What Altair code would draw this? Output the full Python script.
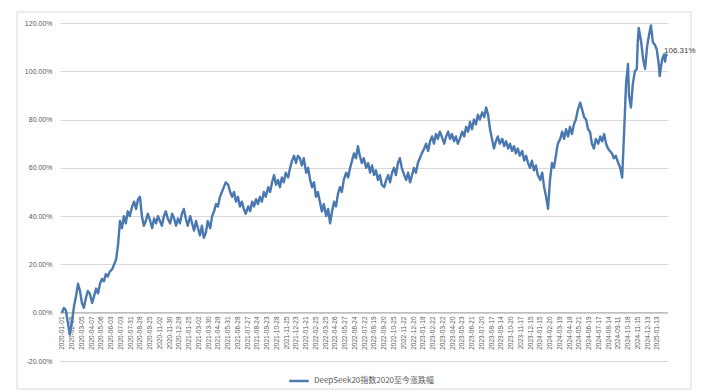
import altair as alt
import pandas as pd

# ---------------- data ----------------
series_name = "DeepSeek20指数2020至今涨跌幅"

tick_dates = [
    "2020-01-01", "2020-02-05", "2020-03-05", "2020-04-07", "2020-05-06", "2020-06-03",
    "2020-07-03", "2020-07-31", "2020-08-28", "2020-09-25", "2020-11-02", "2020-11-30",
    "2020-12-28", "2021-01-25", "2021-03-02", "2021-03-30", "2021-04-28", "2021-05-31",
    "2021-06-28", "2021-07-27", "2021-08-24", "2021-09-23", "2021-10-28", "2021-11-25",
    "2021-12-23", "2022-01-21", "2022-02-25", "2022-03-25", "2022-04-26", "2022-05-27",
    "2022-06-24", "2022-07-22", "2022-08-19", "2022-09-20", "2022-10-25", "2022-11-22",
    "2022-12-20", "2023-01-18", "2023-02-22", "2023-03-22", "2023-04-20", "2023-05-23",
    "2023-06-21", "2023-07-20", "2023-08-17", "2023-09-14", "2023-10-20", "2023-11-17",
    "2023-12-15", "2024-01-15", "2024-02-20", "2024-03-19", "2024-04-18", "2024-05-21",
    "2024-06-19", "2024-07-17", "2024-08-14", "2024-09-11", "2024-10-18", "2024-11-15",
    "2024-12-13", "2025-01-13",
]
tick_step = 20  # one category label every 20 trading days

# trading-day number (0 = 2020-01-01)
trade_day = [
    0, 4, 8, 12, 16, 21, 25, 29, 33, 37,
    41, 45, 49, 53, 57, 62, 66, 70, 74, 78,
    82, 86, 90, 94, 98, 103, 107, 111, 115, 119,
    123, 127, 131, 135, 139, 144, 148, 152, 156, 160,
    164, 168, 172, 176, 181, 185, 189, 193, 197, 201,
    205, 209, 213, 217, 222, 226, 230, 234, 238, 242,
    246, 250, 254, 258, 263, 267, 271, 275, 279, 283,
    287, 291, 295, 299, 304, 308, 312, 316, 320, 324,
    328, 332, 336, 341, 345, 349, 353, 357, 361, 365,
    369, 373, 377, 382, 386, 390, 394, 398, 402, 406,
    410, 414, 418, 423, 427, 431, 435, 439, 443, 447,
    451, 455, 459, 464, 468, 472, 476, 480, 484, 488,
    492, 496, 501, 505, 509, 513, 517, 521, 525, 529,
    533, 537, 542, 546, 550, 554, 558, 562, 566, 570,
    574, 578, 583, 587, 591, 595, 599, 603, 607, 611,
    615, 619, 624, 628, 632, 636, 640, 644, 648, 652,
    656, 661, 665, 669, 673, 677, 681, 685, 689, 693,
    697, 702, 706, 710, 714, 718, 722, 726, 730, 734,
    738, 743, 747, 751, 755, 759, 763, 767, 771, 775,
    779, 784, 788, 792, 796, 800, 804, 808, 812, 816,
    821, 825, 829, 833, 837, 841, 845, 849, 853, 857,
    862, 866, 870, 874, 878, 882, 886, 890, 894, 898,
    903, 907, 911, 915, 919, 923, 927, 931, 935, 939,
    944, 948, 952, 956, 960, 964, 968, 972, 976, 981,
    985, 989, 993, 997, 1001, 1005, 1009, 1013, 1017, 1022,
    1026, 1030, 1034, 1038, 1042, 1046, 1050, 1054, 1058, 1063,
    1067, 1071, 1075, 1079, 1083, 1087, 1091, 1095, 1100, 1104,
    1108, 1112, 1116, 1120, 1124, 1128, 1132, 1136, 1141, 1145,
    1149, 1153, 1157, 1161, 1163, 1167, 1171, 1175, 1179, 1181,
    1183, 1188, 1192, 1196, 1200, 1204, 1208, 1212, 1216, 1220,
    1224, 1226, 1228, 1231, 1235, 1237, 1239, 1241,
]

# cumulative change, percent
pct = [
    0, 2, 1, -4, -9, -3, 3, 7, 12, 9,
    4, 2, 6, 9, 8, 4, 7, 10, 8, 12,
    14, 13, 16, 15, 17, 18, 20, 22, 28, 38,
    35, 40, 37, 42, 40, 44, 46, 43, 47, 48,
    40, 36, 38, 41, 38, 35, 39, 37, 40, 38,
    36, 40, 42, 39, 37, 41, 39, 36, 39, 37,
    41, 43, 39, 36, 40, 37, 34, 38, 35, 32,
    36, 31, 33, 38, 35, 40, 42, 45, 44, 48,
    50, 52, 54, 53, 50, 48, 50, 46, 48, 44,
    46, 43, 41, 44, 42, 46, 44, 47, 45, 48,
    46, 50, 48, 52, 50, 54, 57, 53, 55, 52,
    56, 54, 58, 56, 60, 63, 65, 62, 65, 64,
    61, 64, 58, 60, 55, 52, 54, 48, 50, 46,
    42, 45, 40, 43, 37, 42, 46, 44, 49, 52,
    50, 55, 58, 56, 60, 63, 66, 64, 69, 65,
    62, 64, 60, 62, 58, 61, 57, 59, 55, 57,
    53, 52, 55, 57, 54, 58, 60, 57, 62, 64,
    60, 57, 55, 58, 54, 57, 60, 58, 62, 64,
    66, 68, 70, 67, 71, 73, 70, 74, 72, 75,
    73, 70, 73, 75, 72, 74, 71, 73, 70, 72,
    75, 73, 77, 75, 79, 76, 80, 78, 82, 80,
    83, 81, 85, 82, 76, 72, 68, 71, 73, 70,
    72, 69, 71, 68, 70, 67, 69, 66, 68, 65,
    67, 63, 65, 62, 60, 63, 59, 61, 57, 55,
    58, 52, 48, 43, 55, 62, 60, 65, 70, 72,
    75, 72, 76, 73, 77, 74, 78, 80, 84, 87,
    84, 81, 80, 76, 75, 70, 68, 72, 70, 73,
    71, 74, 70, 68, 67, 66, 64, 65, 62, 60,
    56, 75, 95, 103, 90, 85, 95, 100, 101, 112,
    118, 112, 105, 101, 110, 115, 119, 112, 111, 109,
    103, 98, 101, 105, 107, 104, 107, 106.31,
]

y_ticks = [-20, 0, 20, 40, 60, 80, 100, 120]

# ---------------- chart ----------------
df = pd.DataFrame({
    "day": trade_day,
    "ret": [v / 100 for v in pct],
    "series": series_name,
})

label_array = "[" + ",".join("'" + d + "'" for d in tick_dates) + "]"
x_label_expr = f"{label_array}[round(datum.value / {tick_step})]"
x_tick_values = [i * tick_step for i in range(len(tick_dates))]

FONT = "Liberation Sans"
GRAY = "#595959"
BLUE = "#4a78b0"

x_scale = alt.Scale(domain=[-4, 1243], nice=False, zero=False)
y_scale = alt.Scale(domain=[-0.2, 1.2], nice=False, zero=False)

x_axis = alt.Axis(
    values=x_tick_values,
    labelExpr=x_label_expr,
    labelAngle=270,
    labelFontSize=6.5,
    labelFont=FONT,
    labelColor=GRAY,
    labelOverlap=False,
    labelFlush=False,
    labelSeparation=0,
    labelPadding=3,
    grid=False,
    ticks=False,
    domain=False,
    offset=-48,
    title=None,
)
y_axis = alt.Axis(
    values=[v / 100 for v in y_ticks],
    labelExpr="replace(format(datum.value, '.2%'), '\u2212', '-')",
    labelFontSize=7,
    labelFont=FONT,
    labelColor=GRAY,
    labelPadding=8,
    labelOverlap=False,
    grid=True,
    gridColor="#d9d9d9",
    gridWidth=1,
    domain=False,
    ticks=False,
    title=None,
)


def xe():
    return alt.X("day:Q", scale=x_scale, axis=x_axis)


def ye():
    return alt.Y("ret:Q", scale=y_scale, axis=y_axis)


frame = alt.Chart(pd.DataFrame({"k": [0]})).mark_rect(
    fill=None, stroke="#d9d9d9", strokeWidth=1
).encode(
    x=alt.value(-43), x2=alt.value(631), y=alt.value(-11), y2=alt.value(366)
)

zero_line = alt.Chart(pd.DataFrame({"ret": [0.0]})).mark_rule(
    color="#bfbfbf", strokeWidth=1.2
).encode(y=ye())

line = alt.Chart(df).mark_line(strokeWidth=2.4, strokeJoin="round").encode(
    x=xe(),
    y=ye(),
    color=alt.Color(
        "series:N",
        scale=alt.Scale(domain=[series_name], range=[BLUE]),
        legend=alt.Legend(
            orient="none",
            legendX=228,
            legendY=347,
            title=None,
            symbolType="stroke",
            symbolStrokeWidth=2.5,
            symbolSize=380,
            labelFontSize=8,
            labelFont="Noto Sans CJK SC",
            labelColor=GRAY,
        ),
    ),
)

end_label = alt.Chart(df.tail(1)).mark_text(
    align="left", baseline="bottom", dx=-3, dy=-1, fontSize=8, font=FONT, color="#404040"
).encode(
    x=xe(),
    y=ye(),
    text=alt.Text("ret:Q", format=".2%"),
)

chart = alt.layer(frame, zero_line, line, end_label).properties(
    width=608,
    height=338,
    autosize=alt.AutoSizeParams(type="none"),
    padding={"left": 60, "top": 23, "right": 48, "bottom": 31},
    background="white",
).configure_view(stroke=None)

chart.save("out.html", embed_options={"renderer": "svg", "actions": False})
